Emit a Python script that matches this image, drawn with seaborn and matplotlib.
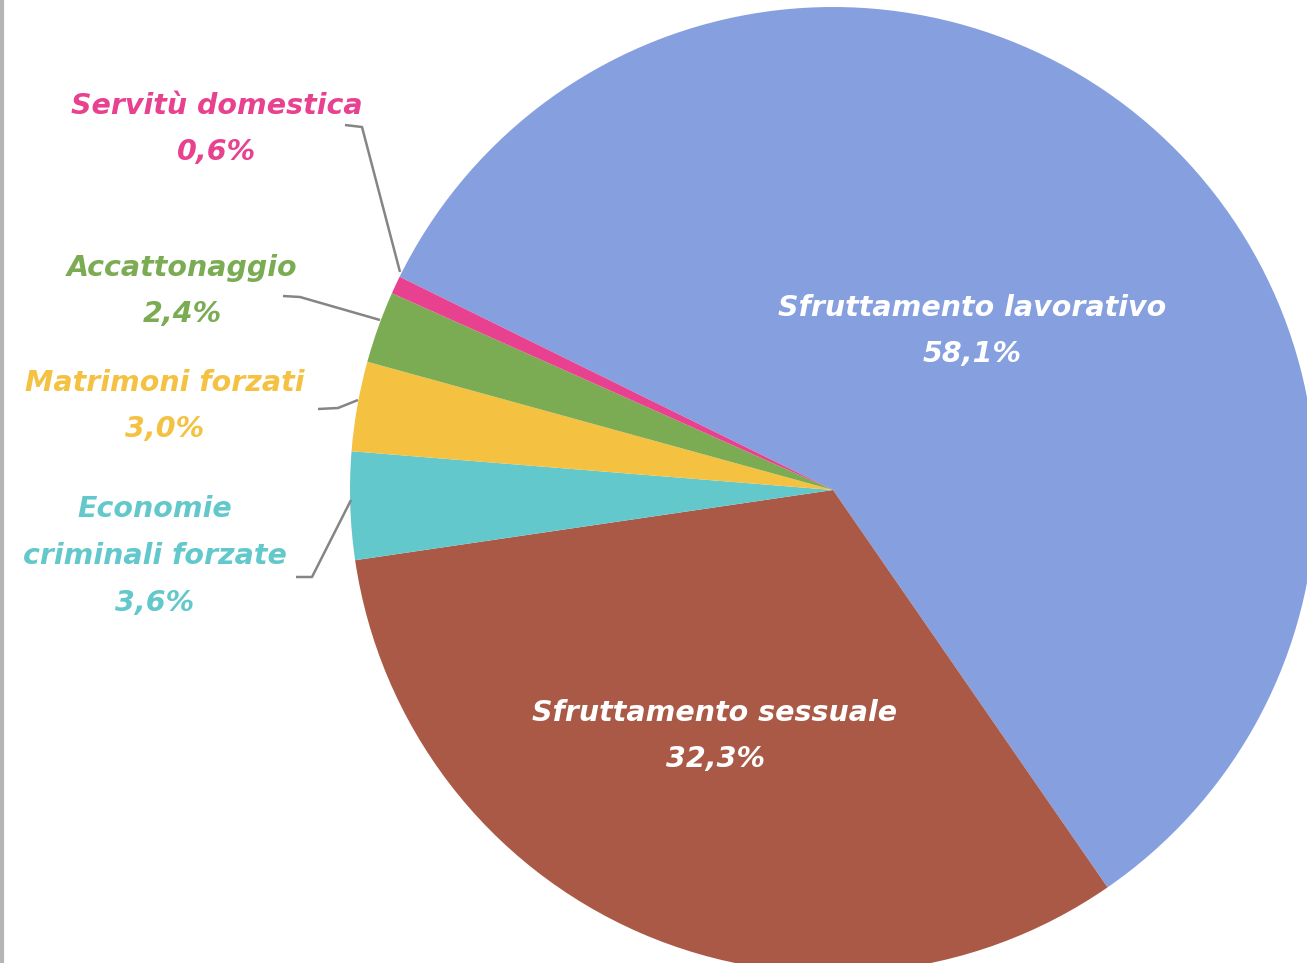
import seaborn as sns
import matplotlib.pyplot as plt

# data, clockwise from the upper-left edge
categories = ["Sfruttamento lavorativo", "Sfruttamento sessuale", "Economie\ncriminali forzate",
              "Matrimoni forzati", "Accattonaggio", "Servitù domestica"]
shares = [58.1, 32.3, 3.6, 3.0, 2.4, 0.6]
share_labels = ["58,1%", "32,3%", "3,6%", "3,0%", "2,4%", "0,6%"]
colors = ["#86A0DF", "#AB5947", "#63C8CB", "#F4C141", "#7BAB52", "#E8418F"]

sns.set_theme(style="white")
plt.rcParams['font.family'] = ['DejaVu Sans']

W, H = 1307, 963
fig = plt.figure(figsize=(W / 100, H / 100), dpi=100)
ax = fig.add_axes([0, 0, 1, 1])


def py(y):
    # pixel row (from top) to data y
    return H - y


cx, cy, R = 833, 490, 483
ax.pie(shares, colors=colors, startangle=153.8, counterclock=False,
       center=(cx, py(cy)), radius=R, frame=True,
       wedgeprops=dict(linewidth=0))
ax.set_xlim(0, W)
ax.set_ylim(0, H)
ax.set_aspect('equal')
ax.axis('off')

font = dict(fontsize=20.5, fontweight='bold', fontstyle='italic', ha='center', va='center',
            linespacing=1.85)

# inside labels
ax.text(972, py(331), f"{categories[0]}\n{share_labels[0]}", color='white', **font)
ax.text(715, py(736), f"{categories[1]}\n{share_labels[1]}", color='white', **font)

# outside labels
outside = {2: (155, 556), 3: (165, 406), 4: (182, 291), 5: (217, 129)}
for i, (x, y) in outside.items():
    ax.text(x, py(y), f"{categories[i]}\n{share_labels[i]}", color=colors[i], **font)

# leader lines
leaders = [
    [(345, 125), (362, 127), (400, 272)],
    [(283, 296), (300, 297), (380, 320)],
    [(318, 409), (338, 408), (358, 400)],
    [(296, 577), (312, 577), (351, 500)],
]
for pts in leaders:
    xs = [p[0] for p in pts]
    ys = [py(p[1]) for p in pts]
    ax.plot(xs, ys, color='#858585', linewidth=1.8, solid_capstyle='butt')

# frame edge on the left
ax.plot([2, 2], [0, H], color='#B5B5B5', linewidth=3)

fig.savefig("out.png", dpi=100)
